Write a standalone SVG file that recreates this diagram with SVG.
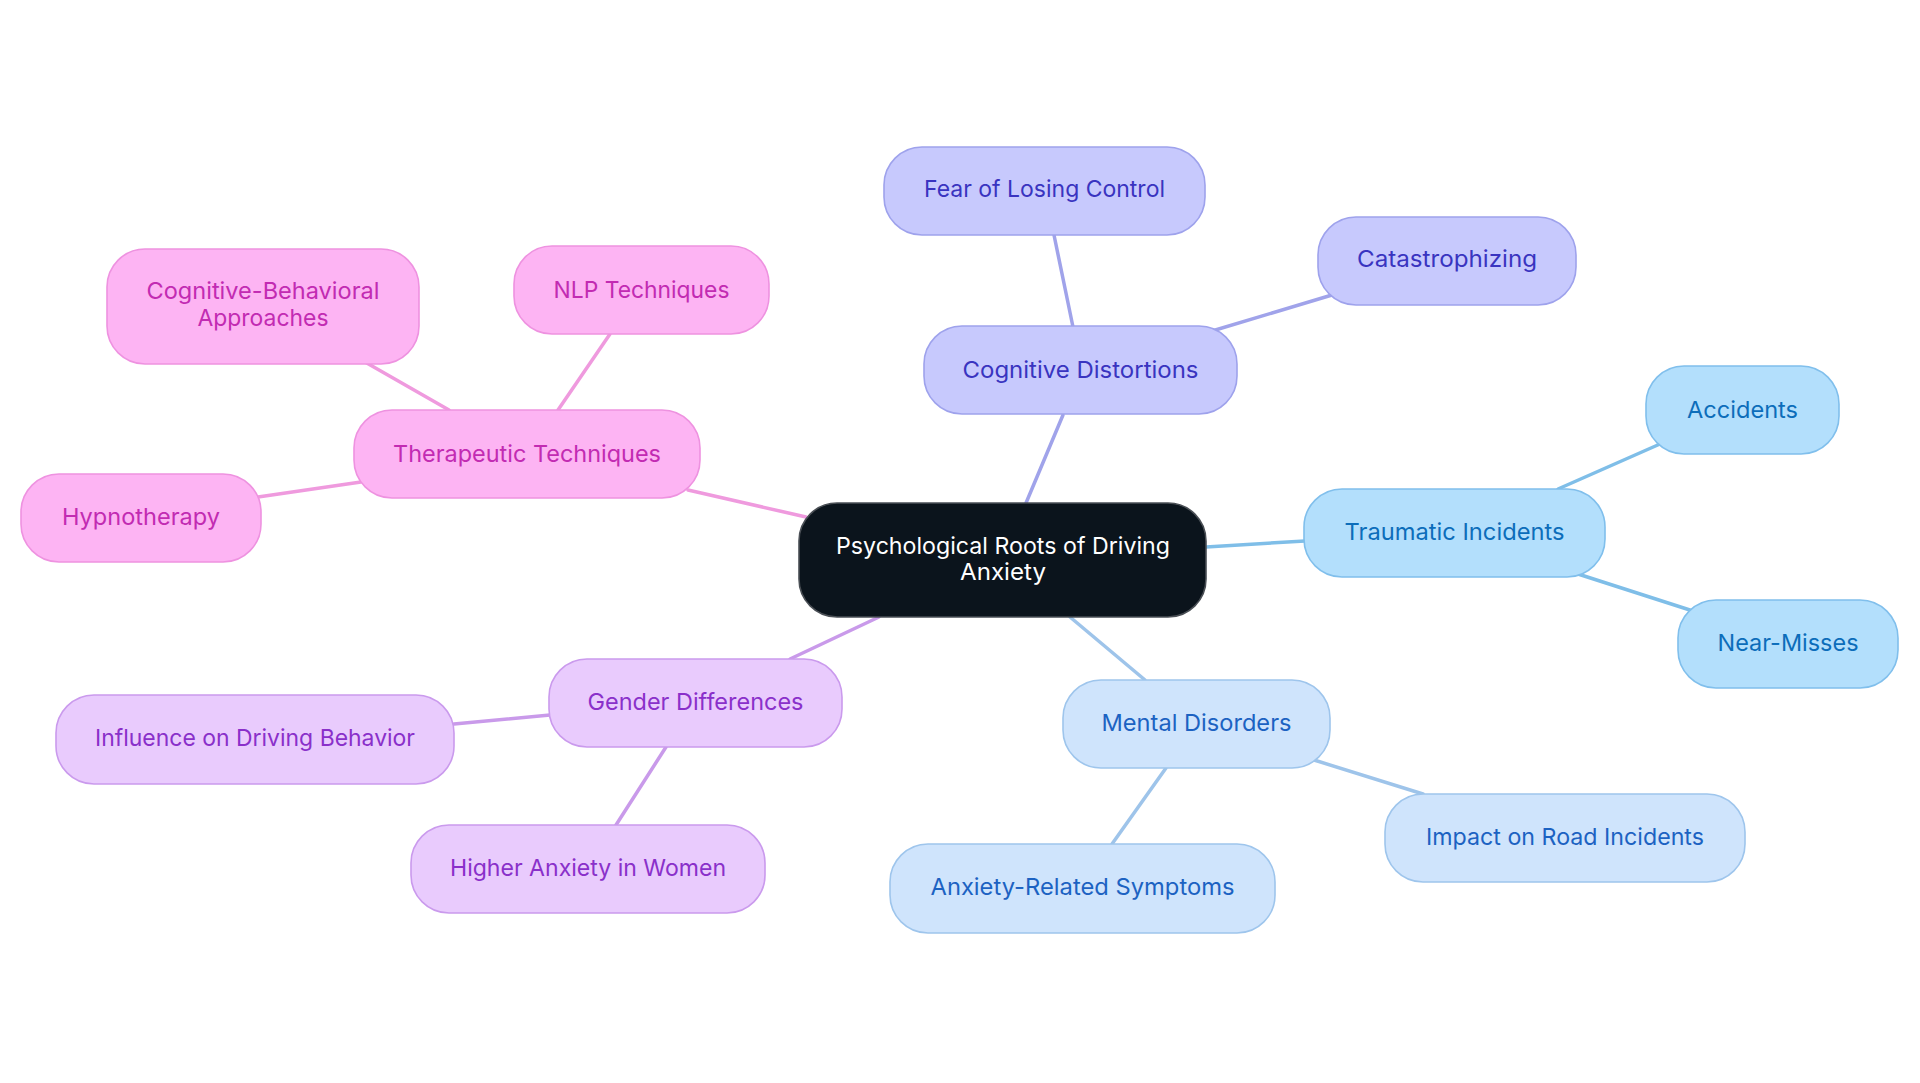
<svg xmlns="http://www.w3.org/2000/svg" width="1920" height="1083" viewBox="0 0 1920 1083">
<style>
text{font-family:Inter,"Noto Sans","Liberation Sans",sans-serif;font-size:23.5px;text-anchor:middle}
.n rect{stroke-width:1.6}
.c line{stroke-width:3.5;stroke-linecap:round}
.root rect{fill:#0b141c;stroke:#4a4f55}
.root text{fill:#ffffff}
.cd rect{fill:#c7c9fd;stroke:#9ea2ec}.cd text{fill:#3934c0}
.ti rect{fill:#b3dffc;stroke:#80bfec}.ti text{fill:#0c6dba}
.md rect{fill:#cfe4fc;stroke:#9ec5ec}.md text{fill:#1c62c2}
.gd rect{fill:#e9cbfd;stroke:#ca9aed}.gd text{fill:#8a30ca}
.tt rect{fill:#fdb4f3;stroke:#ee92e0}.tt text{fill:#c22bb2}
</style>
<rect width="1920" height="1083" fill="#ffffff"/>
<g id="connectors" class="c">
<line x1="1026" y1="503" x2="1063" y2="415" stroke="#a0a3ea"/>
<line x1="1073" y1="327" x2="1054" y2="235" stroke="#a0a3ea"/>
<line x1="1212" y1="331" x2="1332" y2="295" stroke="#a0a3ea"/>
<line x1="1206" y1="547" x2="1305" y2="541" stroke="#7fbee8"/>
<line x1="1558" y1="489" x2="1660" y2="444" stroke="#7fbee8"/>
<line x1="1578" y1="574" x2="1693" y2="611" stroke="#7fbee8"/>
<line x1="1070" y1="617" x2="1145" y2="680" stroke="#9ec4ea"/>
<line x1="1314" y1="760" x2="1423" y2="794" stroke="#9ec4ea"/>
<line x1="1166" y1="768" x2="1112" y2="844" stroke="#9ec4ea"/>
<line x1="879" y1="617" x2="790" y2="659" stroke="#c99aea"/>
<line x1="550" y1="715" x2="454" y2="724" stroke="#c99aea"/>
<line x1="666" y1="747" x2="616" y2="825" stroke="#c99aea"/>
<line x1="806" y1="517" x2="688" y2="490" stroke="#ef9ade"/>
<line x1="361" y1="482" x2="258" y2="497" stroke="#ef9ade"/>
<line x1="449" y1="410" x2="365" y2="362" stroke="#ef9ade"/>
<line x1="558" y1="410" x2="610" y2="334" stroke="#ef9ade"/>
</g>
<g id="root" class="n root"><rect x="799" y="503" width="407" height="114" rx="38"/><text x="1003" y="554" textLength="334" lengthAdjust="spacingAndGlyphs">Psychological Roots of Driving</text><text x="1003" y="580" textLength="86" lengthAdjust="spacingAndGlyphs">Anxiety</text></g>
<g id="cognitive-distortions" class="n cd"><rect x="924" y="326" width="313" height="88" rx="38"/><text x="1080.5" y="378" textLength="236" lengthAdjust="spacingAndGlyphs">Cognitive Distortions</text></g>
<g id="fear-of-losing-control" class="n cd"><rect x="884" y="147" width="321" height="88" rx="38"/><text x="1044.5" y="197" textLength="241" lengthAdjust="spacingAndGlyphs">Fear of Losing Control</text></g>
<g id="catastrophizing" class="n cd"><rect x="1318" y="217" width="258" height="88" rx="38"/><text x="1447" y="267" textLength="180" lengthAdjust="spacingAndGlyphs">Catastrophizing</text></g>
<g id="traumatic-incidents" class="n ti"><rect x="1304" y="489" width="301" height="88" rx="38"/><text x="1454.5" y="540" textLength="220" lengthAdjust="spacingAndGlyphs">Traumatic Incidents</text></g>
<g id="accidents" class="n ti"><rect x="1646" y="366" width="193" height="88" rx="38"/><text x="1742.5" y="418" textLength="111" lengthAdjust="spacingAndGlyphs">Accidents</text></g>
<g id="near-misses" class="n ti"><rect x="1678" y="600" width="220" height="88" rx="38"/><text x="1788" y="651" textLength="141" lengthAdjust="spacingAndGlyphs">Near-Misses</text></g>
<g id="mental-disorders" class="n md"><rect x="1063" y="680" width="267" height="88" rx="38"/><text x="1196.5" y="731" textLength="190" lengthAdjust="spacingAndGlyphs">Mental Disorders</text></g>
<g id="impact-on-road-incidents" class="n md"><rect x="1385" y="794" width="360" height="88" rx="38"/><text x="1565" y="845" textLength="278" lengthAdjust="spacingAndGlyphs">Impact on Road Incidents</text></g>
<g id="anxiety-related-symptoms" class="n md"><rect x="890" y="844" width="385" height="89" rx="38"/><text x="1082.5" y="895" textLength="304" lengthAdjust="spacingAndGlyphs">Anxiety-Related Symptoms</text></g>
<g id="gender-differences" class="n gd"><rect x="549" y="659" width="293" height="88" rx="38"/><text x="695.5" y="710" textLength="216" lengthAdjust="spacingAndGlyphs">Gender Differences</text></g>
<g id="influence-on-driving-behavior" class="n gd"><rect x="56" y="695" width="398" height="89" rx="38"/><text x="255" y="746" textLength="320" lengthAdjust="spacingAndGlyphs">Influence on Driving Behavior</text></g>
<g id="higher-anxiety-in-women" class="n gd"><rect x="411" y="825" width="354" height="88" rx="38"/><text x="588" y="876" textLength="276" lengthAdjust="spacingAndGlyphs">Higher Anxiety in Women</text></g>
<g id="therapeutic-techniques" class="n tt"><rect x="354" y="410" width="346" height="88" rx="38"/><text x="527" y="462" textLength="268" lengthAdjust="spacingAndGlyphs">Therapeutic Techniques</text></g>
<g id="hypnotherapy" class="n tt"><rect x="21" y="474" width="240" height="88" rx="38"/><text x="141" y="525" textLength="158" lengthAdjust="spacingAndGlyphs">Hypnotherapy</text></g>
<g id="cognitive-behavioral-approaches" class="n tt"><rect x="107" y="249" width="312" height="115" rx="38"/><text x="263" y="299" textLength="233" lengthAdjust="spacingAndGlyphs">Cognitive-Behavioral</text><text x="263" y="326" textLength="131" lengthAdjust="spacingAndGlyphs">Approaches</text></g>
<g id="nlp-techniques" class="n tt"><rect x="514" y="246" width="255" height="88" rx="38"/><text x="641.5" y="298" textLength="176" lengthAdjust="spacingAndGlyphs">NLP Techniques</text></g>
</svg>
